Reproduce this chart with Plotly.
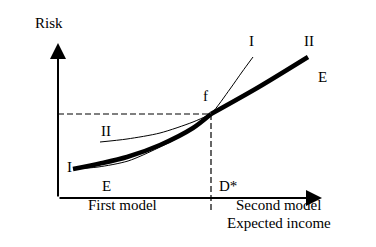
import plotly.graph_objects as go

# Coordinates: expected income (x) and risk (y), origin at axes corner
E_low_income = [15, 42, 69, 102, 135, 153]
E_low_risk = [29, 34.5, 41, 53, 70, 84]
E_high_income = [153, 200, 250]
E_high_risk = [84, 110.5, 141]

I_income = [15, 40, 70, 100, 130, 153, 172, 184, 195]
I_risk = [29, 31, 37, 50, 66, 84, 109, 126, 141]

II_income = [42, 69, 102, 135, 153]
II_risk = [56, 59, 65, 76, 84]

f_income = 153
f_risk = 84

labels = ["Risk", "I", "II", "E", "f", "II", "I", "E", "D*", "First model", "Second model", "Expected income"]
label_x = [-9, 193, 251, 264, 147, 48, 11, 48, 170, 64, 220, 221]
label_y = [175, 157, 157, 121, 102, 67, 31, 12, 12, -7, -7, -25]

FONT = "Liberation Serif, Times New Roman, serif"

fig = go.Figure()
fig.add_trace(go.Scatter(x=I_income, y=I_risk, mode="lines",
                         line=dict(color="black", width=1, shape="spline", smoothing=0.8), hoverinfo="skip"))
fig.add_trace(go.Scatter(x=II_income, y=II_risk, mode="lines",
                         line=dict(color="black", width=1, shape="spline", smoothing=0.8), hoverinfo="skip"))
fig.add_trace(go.Scatter(x=E_low_income, y=E_low_risk, mode="lines",
                         line=dict(color="black", width=4.5, shape="spline", smoothing=0.8), hoverinfo="skip"))
fig.add_trace(go.Scatter(x=E_high_income, y=E_high_risk, mode="lines",
                         line=dict(color="black", width=4.5, shape="spline", smoothing=0.8), hoverinfo="skip"))

# dashed guides
fig.add_shape(type="line", x0=0, y0=f_risk, x1=f_income, y1=f_risk,
              line=dict(color="black", width=1.2, dash="6px,3px"))
fig.add_shape(type="line", x0=f_income, y0=f_risk, x1=f_income, y1=-14,
              line=dict(color="black", width=1.2, dash="6px,3px"))

# axes with arrows
fig.add_annotation(x=264, y=0, ax=0, ay=0, xref="x", yref="y", axref="x", ayref="y",
                   showarrow=True, arrowhead=2, arrowsize=1.6, arrowwidth=2, arrowcolor="black", text="")
fig.add_annotation(x=0, y=155, ax=0, ay=0, xref="x", yref="y", axref="x", ayref="y",
                   showarrow=True, arrowhead=2, arrowsize=1.6, arrowwidth=2, arrowcolor="black", text="")

for t, x, y in zip(labels, label_x, label_y):
    fig.add_annotation(x=x, y=y, text=t, showarrow=False, xref="x", yref="y",
                       font=dict(family=FONT, size=15, color="black"))

fig.update_layout(width=368, height=239, margin=dict(l=0, r=0, t=0, b=0),
                  paper_bgcolor="white", plot_bgcolor="white", showlegend=False,
                  xaxis=dict(range=[-50, 318], visible=False, fixedrange=True),
                  yaxis=dict(range=[-49, 190], visible=False, fixedrange=True))
fig.write_html("out.html")
